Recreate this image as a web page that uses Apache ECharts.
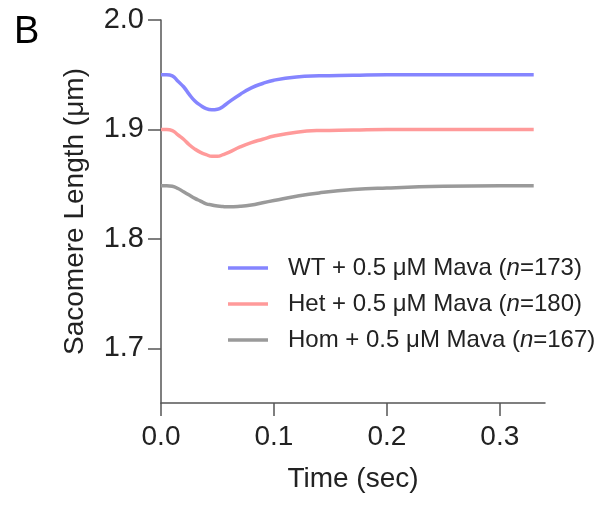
<!DOCTYPE html>
<html>
<head>
<meta charset="utf-8">
<script src="https://cdn.jsdelivr.net/npm/echarts@6/dist/echarts.min.js"></script>
<style>html,body{margin:0;padding:0;background:#fff}#c{width:613px;height:506px}</style>
</head>
<body>
<div id="c"></div>
<script>
var groups = ['WT', 'Het', 'Hom'];
var nValues = [173, 180, 167];
var colors = ['#8585ff', '#ff9a9a', '#9a9a9a'];
var time = [0, 0.005, 0.01, 0.015, 0.02, 0.025, 0.03, 0.035, 0.04, 0.045, 0.05, 0.055, 0.06, 0.07, 0.08, 0.09, 0.10, 0.12, 0.14, 0.17, 0.20, 0.25, 0.30, 0.33];
var wtValues = [1.950, 1.950, 1.949, 1.944, 1.939, 1.932, 1.926, 1.922, 1.919, 1.918, 1.9185, 1.921, 1.925, 1.932, 1.938, 1.942, 1.945, 1.948, 1.949, 1.9495, 1.950, 1.950, 1.950, 1.950];
var hetValues = [1.900, 1.900, 1.899, 1.895, 1.891, 1.886, 1.882, 1.879, 1.877, 1.8755, 1.8755, 1.877, 1.879, 1.884, 1.888, 1.891, 1.894, 1.8975, 1.899, 1.8995, 1.900, 1.900, 1.900, 1.900];
var homValues = [1.8485, 1.8485, 1.848, 1.846, 1.843, 1.840, 1.837, 1.8345, 1.832, 1.831, 1.830, 1.8295, 1.8293, 1.8298, 1.831, 1.833, 1.835, 1.839, 1.842, 1.845, 1.8465, 1.848, 1.8485, 1.8485];
var xTicks = [0, 0.1, 0.2, 0.3];
var yTicks = [1.7, 1.8, 1.9, 2.0];

var valueSets = [wtValues, hetValues, homValues];
var FONT = '"Liberation Sans", Arial, sans-serif';
var series = groups.map(function (g, i) {
  return {
    name: g + ' + 0.5 μM Mava (n=' + nValues[i] + ')',
    type: 'line',
    smooth: true,
    showSymbol: false,
    symbol: 'none',
    lineStyle: { color: colors[i], width: 3.5 },
    itemStyle: { color: colors[i] },
    data: time.map(function (t, k) { return [t, valueSets[i][k]]; })
  };
});

var chart = echarts.init(document.getElementById('c'));
chart.setOption({
  animation: false,
  backgroundColor: '#fff',
  graphic: [{ type: 'text', left: 14, top: 14, style: { text: 'B', font: '38px ' + FONT, fill: '#000' } }],
  grid: { left: 161, top: 20, right: 68, bottom: 103 },
  legend: {
    orient: 'vertical',
    left: 223,
    top: 251,
    icon: 'rect',
    itemWidth: 40,
    itemHeight: 3.5,
    itemGap: 12,
    data: series.map(function (s) { return s.name; }),
    formatter: function (name) {
      var parts = name.split('(n=');
      return '{a|' + parts[0] + '(}{i|n}{a|=' + parts[1] + '}';
    },
    textStyle: {
      padding: [0, 0, 0, 15],
      rich: {
        a: { fontFamily: FONT, fontSize: 24, color: '#222', lineHeight: 24 },
        i: { fontFamily: FONT, fontSize: 24, color: '#222', fontStyle: 'italic', lineHeight: 24 }
      }
    }
  },
  xAxis: {
    type: 'value',
    min: 0,
    max: 0.34,
    name: 'Time (sec)',
    nameLocation: 'middle',
    nameGap: 62,
    nameTextStyle: { fontFamily: FONT, fontSize: 28, color: '#222' },
    axisLine: { lineStyle: { color: '#555', width: 1.5 } },
    axisTick: { show: true, length: 13, customValues: xTicks, lineStyle: { color: '#555', width: 1.5 } },
    axisLabel: { customValues: xTicks, fontFamily: FONT, fontSize: 28, color: '#222', margin: 20,
      formatter: function (v) { return v.toFixed(1); } },
    splitLine: { show: false }
  },
  yAxis: {
    type: 'value',
    min: 1.65,
    max: 2.0,
    name: 'Sacomere Length (μm)',
    nameLocation: 'middle',
    nameGap: 72,
    nameTextStyle: { fontFamily: FONT, fontSize: 28, color: '#222' },
    axisLine: { show: true, lineStyle: { color: '#555', width: 1.5 } },
    axisTick: { show: true, length: 13, customValues: yTicks, lineStyle: { color: '#555', width: 1.5 } },
    axisLabel: { customValues: yTicks, fontFamily: FONT, fontSize: 29, color: '#222', margin: 17,
      formatter: function (v) { return v.toFixed(1); } },
    splitLine: { show: false }
  },
  series: series
});
</script>
</body>
</html>
